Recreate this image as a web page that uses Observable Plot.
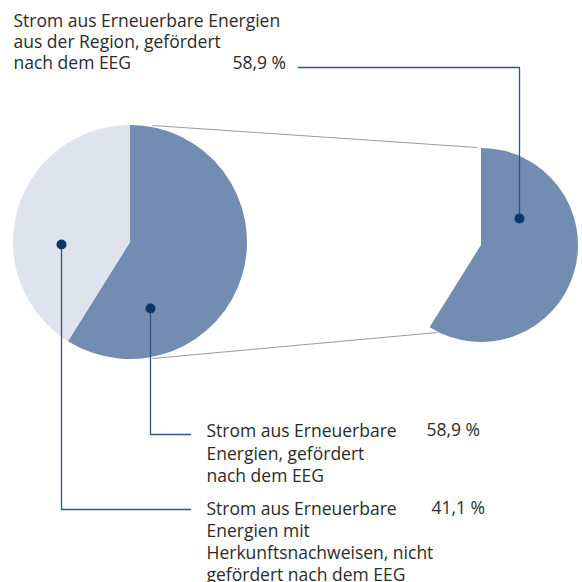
<!DOCTYPE html>
<html>
<head>
<meta charset="utf-8">
<script src="https://cdn.jsdelivr.net/npm/d3@7"></script>
<script src="https://cdn.jsdelivr.net/npm/@observablehq/plot@0.6"></script>
<style>
  html, body { margin: 0; padding: 0; background: #fff; }
  #chart svg { display: block; }
</style>
</head>
<body>
<div id="chart"></div>
<script>
// ---- data ----
const categories = ["gefördert nach dem EEG", "Herkunftsnachweise, nicht gefördert"];
const shares = [58.9, 41.1];
const valueLabels = ["58,9 %", "41,1 %"];
const topLabel = ["Strom aus Erneuerbare Energien", "aus der Region, gefördert", "nach dem EEG"];
const topValue = "58,9 %";
const legendLabels = [
  ["Strom aus Erneuerbare", "Energien, gefördert", "nach dem EEG"],
  ["Strom aus Erneuerbare", "Energien mit", "Herkunftsnachweisen, nicht", "gefördert nach dem EEG"]
];

// ---- layout / style ----
const W = 582, H = 582;
const colors = ["#728db1", "#dfe3ee"];
const lineColor = "#2d5588";
const dotColor = "#0d3866";
const textColor = "#2b2b2b";
const font = "Open Sans";
const fs = 17.5;
const leftPie = {cx: 130, cy: 242, r: 117};
const rightPie = {cx: 481, cy: 245, r: 97};

const pie = d3.pie().sort(null).value(d => d.value);
const slices = pie(categories.map((c, i) => ({category: c, value: shares[i], color: colors[i]})));

function pieMark(center, which) {
  return (index, scales) => {
    const g = d3.create("svg:g");
    const cx = scales.x(center.cx), cy = scales.y(center.cy);
    const r = scales.x(center.cx + center.r) - cx;
    const arc = d3.arc().innerRadius(0).outerRadius(r);
    g.selectAll("path")
      .data(slices.filter((s, i) => which.includes(i)))
      .join("path")
      .attr("transform", `translate(${cx},${cy})`)
      .attr("d", arc)
      .attr("fill", d => d.data.color);
    return g.node();
  };
}

const connectors = [
  {x1: 152, y1: 125, x2: 477, y2: 147},
  {x1: 152, y1: 358, x2: 437, y2: 332}
];
const leaders = [
  [{x: 519, y: 218}, {x: 519, y: 67}, {x: 298, y: 67}],
  [{x: 150, y: 308}, {x: 150, y: 434}, {x: 190, y: 434}],
  [{x: 61, y: 244}, {x: 61, y: 509}, {x: 190, y: 509}]
];
const dots = leaders.map(l => l[0]);

// text lines placed by baseline
const topLines = topLabel.map((t, i) => ({text: t, x: 13, y: 26.7 + 21 * i}));
topLines.push({text: topValue, x: 232, y: 26.7 + 42});
const legendBase = [436.8, 514.3];
const legendStep = [22.2, 22];
const legendLines = legendLabels.flatMap((lines, k) =>
  lines.map((t, i) => ({text: t, x: 206, y: legendBase[k] + legendStep[k] * i})));
const valueX = [426, 431];
valueLabels.forEach((v, k) => legendLines.push({text: v, x: valueX[k], y: legendBase[k] - 1}));

const chart = Plot.plot({
  width: W, height: H, margin: 0,
  x: {domain: [0, W], range: [0, W], axis: null},
  y: {domain: [0, H], range: [0, H], axis: null},
  style: {fontFamily: font, background: "#fff"},
  marks: [
    Plot.link(connectors, {x1: "x1", y1: "y1", x2: "x2", y2: "y2", stroke: "#9a9a9a", strokeWidth: 1}),
    pieMark(leftPie, [0, 1]),
    pieMark(rightPie, [0]),
    ...leaders.map(l => Plot.line(l, {x: "x", y: "y", stroke: lineColor, strokeWidth: 1.3, curve: "linear"})),
    Plot.dot(dots, {x: "x", y: "y", r: 5, fill: dotColor, stroke: "none"}),
    Plot.text(topLines.concat(legendLines), {x: "x", y: "y", text: "text", textAnchor: "start", lineAnchor: "bottom", fontSize: fs, fill: textColor})
  ]
});
document.getElementById("chart").appendChild(chart);
</script>
</body>
</html>
